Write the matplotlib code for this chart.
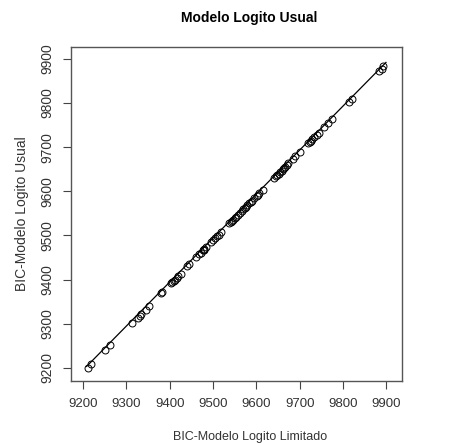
import matplotlib
matplotlib.use("Agg")
import matplotlib.pyplot as plt

# BIC values (x: limited logit, y: usual logit)
bic_limitado = [9212, 9218, 9250, 9263, 9313, 9326, 9331, 9334, 9344, 9352,
                9380, 9383, 9403, 9406, 9409, 9413, 9416, 9420, 9425, 9440,
                9445, 9461, 9468, 9472, 9476, 9478, 9480, 9484, 9496, 9500,
                9504, 9510, 9514, 9518, 9537, 9541, 9543, 9547, 9550, 9553,
                9558, 9562, 9566, 9570, 9573, 9576, 9579, 9584, 9587, 9589,
                9595, 9601, 9604, 9607, 9615, 9641, 9645, 9648, 9651, 9654,
                9658, 9661, 9664, 9667, 9670, 9674, 9684, 9690, 9700, 9720,
                9723, 9726, 9729, 9733, 9739, 9744, 9756, 9765, 9775, 9814,
                9821, 9883, 9889, 9893]
bic_usual = [9200, 9208, 9240, 9252, 9302, 9313, 9318, 9322, 9332, 9340,
             9370, 9372, 9391, 9394, 9397, 9400, 9403, 9407, 9413, 9431,
             9435, 9451, 9457, 9461, 9466, 9468, 9470, 9474, 9486, 9489,
             9493, 9498, 9502, 9507, 9527, 9530, 9533, 9536, 9539, 9542,
             9547, 9551, 9555, 9559, 9562, 9565, 9568, 9573, 9576, 9578,
             9584, 9590, 9592, 9596, 9603, 9630, 9634, 9637, 9640, 9643,
             9647, 9650, 9653, 9656, 9659, 9663, 9674, 9679, 9689, 9709,
             9712, 9715, 9718, 9722, 9728, 9733, 9745, 9754, 9764, 9803,
             9810, 9873, 9878, 9883]

# reference line
line_x = [9208, 9899]
line_y = [9203, 9892]

ticks = [9200, 9300, 9400, 9500, 9600, 9700, 9800, 9900]

plt.rcParams['font.family'] = ['Liberation Sans', 'DejaVu Sans']

fig = plt.figure(figsize=(4.54, 4.45), dpi=100)
ax = fig.add_axes([71 / 454, 1 - 381 / 445, 331 / 454, 334 / 445])

ax.plot(line_x, line_y, color='black', linewidth=0.9)
ax.plot(bic_limitado, bic_usual, linestyle='none', marker='o', markersize=5,
        markerfacecolor='none', markeredgecolor='black', markeredgewidth=0.7)

ax.set_xlim(9172, 9936)
ax.set_ylim(9170, 9927)
ax.set_xticks(ticks)
ax.set_yticks(ticks)
ax.set_xticklabels([str(t) for t in ticks], fontsize=9.5, color='#333333')
ax.set_yticklabels([str(t) for t in ticks], fontsize=10, color='#333333',
                   rotation=90, va='center')
ax.tick_params(direction='out', length=6, width=0.8, colors='#444444',
               labelcolor='#333333', pad=6)
for s in ax.spines.values():
    s.set_color('#555555')
    s.set_linewidth(1.0)

ax.set_ylabel('BIC-Modelo Logito Usual', fontsize=10, color='#333333', labelpad=8)
fig.text(250 / 454, 1 - 437 / 445, 'BIC-Modelo Logito Limitado', ha='center',
         va='center', fontsize=9, color='#333333')
fig.text(249 / 454, 1 - 18 / 445, 'Modelo Logito Usual', ha='center', va='center',
         fontsize=10, fontweight='bold')

fig.savefig('out.png', dpi=100)
